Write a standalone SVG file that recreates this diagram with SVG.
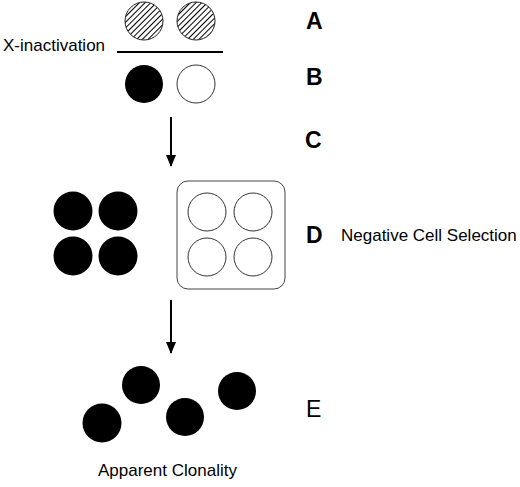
<svg xmlns="http://www.w3.org/2000/svg" width="520" height="487" viewBox="0 0 520 487">
<style>
.lbl{font-family:"Liberation Sans",Arial,sans-serif;font-weight:bold;font-size:23px;fill:#000}
.txt{font-family:"Liberation Sans",Arial,sans-serif;font-size:17px;fill:#000}
.blk{fill:#000}
.wht{fill:#fff;stroke:#333;stroke-width:1}
.hat{fill:url(#hatch);stroke:#222;stroke-width:1}
.conn{stroke:#000;stroke-width:2;fill:none}
</style>
<defs>
<pattern id="hatch" patternUnits="userSpaceOnUse" width="4" height="4" patternTransform="rotate(45)">
<rect width="4" height="4" fill="#fff"/>
<line x1="0" y1="0" x2="0" y2="4" stroke="#000" stroke-width="2"/>
</pattern>
<marker id="arr" markerWidth="12" markerHeight="10" refX="11" refY="5" orient="auto" markerUnits="userSpaceOnUse">
<path d="M0,0 L12,5 L0,10 Z" fill="#000"/>
</marker>
</defs>
<rect width="520" height="487" fill="#fff"/>
<g id="stageA">
<circle class="hat" cx="144" cy="21" r="19"/>
<circle class="hat" cx="196" cy="21" r="19"/>
<text class="lbl" x="306" y="29">A</text>
</g>
<g id="xinact">
<line x1="117" y1="52" x2="223" y2="52" stroke="#000" stroke-width="2"/>
<text class="txt" x="3" y="51">X-inactivation</text>
</g>
<g id="stageB">
<circle class="blk" cx="144" cy="84" r="19"/>
<circle class="wht" cx="196" cy="84" r="19"/>
<text class="lbl" x="306" y="85">B</text>
</g>
<g id="stageC">
<text class="lbl" x="305" y="148">C</text>
</g>
<g id="stageD">
<circle class="blk" cx="73" cy="211" r="19.5"/>
<circle class="blk" cx="118" cy="211" r="19.5"/>
<circle class="blk" cx="73" cy="256" r="19.5"/>
<circle class="blk" cx="118" cy="256" r="19.5"/>
<rect x="177" y="181" width="108" height="108" rx="11" fill="#fff" stroke="#444" stroke-width="1"/>
<circle class="wht" cx="207" cy="212" r="19"/>
<circle class="wht" cx="253" cy="212" r="19"/>
<circle class="wht" cx="207" cy="257" r="19"/>
<circle class="wht" cx="253" cy="257" r="19"/>
<text class="lbl" x="306" y="243">D</text>
<text class="txt" x="341" y="241">Negative Cell Selection</text>
</g>
<g id="stageE">
<circle class="blk" cx="102" cy="423" r="19.5"/>
<circle class="blk" cx="141" cy="385" r="19"/>
<circle class="blk" cx="185" cy="417" r="19"/>
<circle class="blk" cx="237" cy="391" r="19"/>
<text class="txt" x="306" y="417" style="font-size:23px">E</text>
<text class="txt" x="98" y="476">Apparent Clonality</text>
</g>
<g id="connectors">
<line class="conn" x1="171" y1="117" x2="171" y2="166" marker-end="url(#arr)"/>
<line class="conn" x1="171" y1="300" x2="171" y2="353" marker-end="url(#arr)"/>
</g>
</svg>
